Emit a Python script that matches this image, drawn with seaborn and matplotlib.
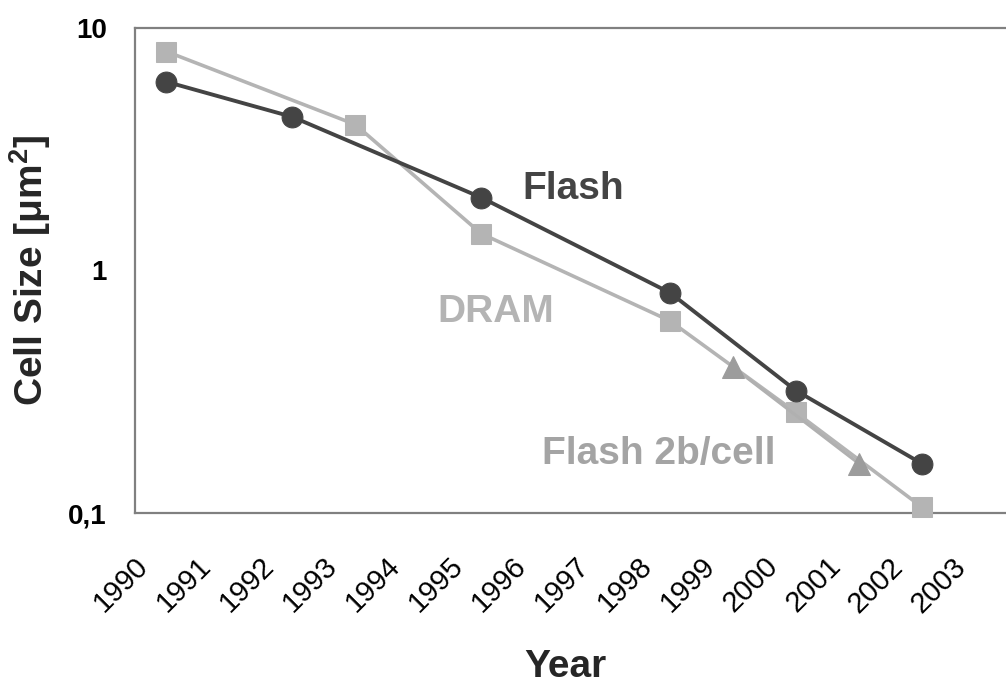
import numpy as np
import pandas as pd
import seaborn as sns
import matplotlib
matplotlib.use("Agg")
import matplotlib.pyplot as plt
from matplotlib.transforms import ScaledTranslation

# Cell size by year (category), in square micrometres
flash_years = [1990, 1992, 1995, 1998, 2000, 2002]
flash_size = [6.0, 4.3, 2.0, 0.81, 0.32, 0.16]

dram_years = [1990, 1993, 1995, 1998, 2000, 2002]
dram_size = [8.0, 4.0, 1.42, 0.62, 0.26, 0.106]

mlc_years = [1999, 2001]
mlc_size = [0.40, 0.16]

year_labels = [str(y) for y in range(1990, 2004)]
y_ticks = [0.1, 1, 10]
y_tick_labels = ["0,1", "1", "10"]

sns.set_style("white")
plt.rcParams["font.family"] = ["Liberation Sans", "DejaVu Sans"]
plt.rcParams["mathtext.fontset"] = "custom"
plt.rcParams["mathtext.bf"] = "Liberation Sans:bold"
plt.rcParams["mathtext.rm"] = "Liberation Sans:bold"

DARK = "#444444"
LIGHT = "#b4b4b4"
MID = "#9c9c9c"
AXIS = "#808080"

fig = plt.figure(figsize=(10.06, 6.84), dpi=100)
ax = fig.add_axes([135 / 1006, 1 - 513 / 684, 871 / 1006, 485 / 684])

# markers sit in the middle of each year's category
def frame(years, sizes):
    return pd.DataFrame({"year": np.asarray(years) + 0.5, "size": sizes})

sns.lineplot(data=frame(dram_years, dram_size), x="year", y="size", ax=ax,
             color=LIGHT, lw=2.6, marker="s", markersize=15,
             markeredgecolor=LIGHT, clip_on=False, zorder=4)
sns.lineplot(data=frame(mlc_years, mlc_size), x="year", y="size", ax=ax,
             color="#b0b0b0", lw=2.2, marker="^", markersize=16,
             markerfacecolor=MID, markeredgecolor=MID, clip_on=False, zorder=5)
sns.lineplot(data=frame(flash_years, flash_size), x="year", y="size", ax=ax,
             color=DARK, lw=2.8, marker="o", markersize=15,
             markeredgecolor=DARK, clip_on=False, zorder=6)

ax.set_yscale("log")
ax.set_ylim(0.1, 10)
ax.set_xlim(1990, 2003.84)
ax.set_yticks(y_ticks)
ax.set_yticklabels(y_tick_labels)
ax.yaxis.set_minor_locator(matplotlib.ticker.NullLocator())
ax.set_xticks(range(1990, 2004))
ax.set_xticklabels(year_labels, rotation=45, ha="right", va="top",
                   rotation_mode="anchor")

for s in ["left", "top", "bottom"]:
    ax.spines[s].set_color(AXIS)
    ax.spines[s].set_linewidth(1.6)
ax.spines["right"].set_visible(False)

ax.tick_params(axis="both", which="major", direction="out", length=7.2,
               width=1.6, color=AXIS, labelcolor="black")
ax.tick_params(axis="y", labelsize=20, pad=13)
ax.tick_params(axis="x", labelsize=21, pad=21)
for lab in ax.get_yticklabels():
    lab.set_fontweight("bold")
for lab in ax.get_xticklabels():
    lab.set_transform(lab.get_transform()
                      + ScaledTranslation(-1 / 100, 0, fig.dpi_scale_trans))

ax.set_ylabel(r"Cell Size [μm$^{\mathbf{2}}$]", fontsize=28,
              fontweight="bold", va="center")
ax.yaxis.set_label_coords((30 - 135) / 871, 0.5)
ax.set_xlabel("Year", fontsize=28, fontweight="bold", va="baseline")
ax.xaxis.set_label_coords((565 - 135) / 871, (513 - 677) / 485)

ax.text(1996.96, 2.17, "Flash", fontsize=28, fontweight="bold",
        color=DARK, ha="center", va="center")
ax.text(1995.73, 0.674, "DRAM", fontsize=28, fontweight="bold",
        color=LIGHT, ha="center", va="center")
ax.text(1998.32, 0.175, "Flash 2b/cell", fontsize=28, fontweight="bold",
        color="#a4a4a4", ha="center", va="center")

fig.savefig("out.png", dpi=100)
